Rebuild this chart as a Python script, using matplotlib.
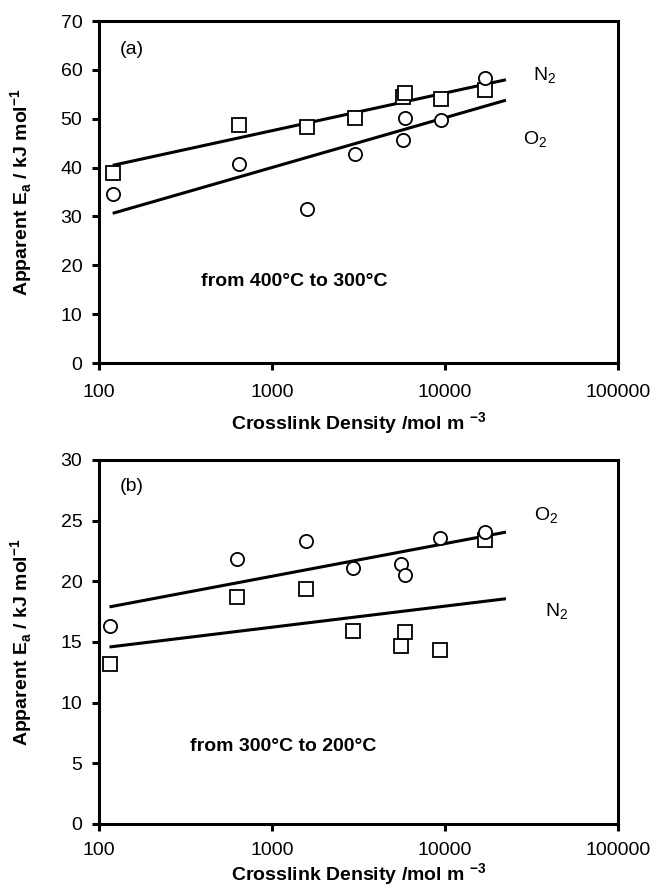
"""
Apparent activation energy vs. crosslink density, two stacked panels.
Output: out.png (656 x 892 px)
"""

import matplotlib

matplotlib.use("Agg")
import matplotlib.pyplot as plt
import numpy as np

# ---- data -----------------------------------------------------------------
# panel (a): from 400 C to 300 C
XLINK_A = [120, 645, 1600, 3000, 5700, 5900, 9500, 17000]
EA_N2_A = [38.9, 48.8, 48.3, 50.2, 54.5, 55.3, 54.1, 55.8]
EA_O2_A = [34.6, 40.7, 31.6, 42.8, 45.7, 50.2, 49.8, 58.4]

# panel (b): from 300 C to 200 C
XLINK_B = [115, 630, 1580, 2950, 5600, 5900, 9400, 17000]
EA_N2_B = [13.2, 18.7, 19.4, 15.9, 14.7, 15.8, 14.3, 23.4]
EA_O2_B = [16.3, 21.8, 23.3, 21.1, 21.4, 20.5, 23.6, 24.1]

FIT_END = 22500  # trendline runs out a bit past the last sample

# ---- style ----------------------------------------------------------------
FIG_W_IN = 6.56
FIG_H_IN = 8.92
DPI = 100

FONT = "Liberation Sans"
TICK_FS = 14.0
LABEL_FS = 14.0
NOTE_FS = 14.0
SPINE_LW = 2.2
LINE_LW = 2.2
MARKER_SIZE = 9.5
MARKER_EW = 1.3

XLABEL = "Crosslink Density /mol m $^{\\mathregular{-3}}$"
YLABEL = "Apparent E$_{\\mathregular{a}}$ / kJ mol$^{\\mathregular{-1}}$"

plt.rcParams["font.family"] = [FONT, "DejaVu Sans"]
plt.rcParams["mathtext.fontset"] = "custom"
plt.rcParams["mathtext.rm"] = FONT
plt.rcParams["mathtext.bf"] = FONT + ":bold"


def _style_axes(ax, ymax, ystep, xtickpad, xlabelpad):
    ax.set_xscale("log")
    ax.set_xlim(100, 100000)
    ax.set_ylim(0, ymax)
    ax.set_xticks([100, 1000, 10000, 100000])
    ax.set_xticklabels(["100", "1000", "10000", "100000"])
    ax.xaxis.set_minor_locator(matplotlib.ticker.NullLocator())
    ax.set_yticks(np.arange(0, ymax + 0.1, ystep))
    for spine in ax.spines.values():
        spine.set_linewidth(SPINE_LW)
    ax.tick_params(axis="both", which="major", direction="out", length=5,
                   width=SPINE_LW, labelsize=TICK_FS)
    ax.tick_params(axis="x", pad=xtickpad)
    ax.tick_params(axis="y", pad=7)
    ax.set_xlabel(XLABEL, fontsize=LABEL_FS, fontweight="bold",
                  labelpad=xlabelpad)
    ax.set_ylabel(YLABEL, fontsize=LABEL_FS, fontweight="bold")
    ax.yaxis.set_label_coords(-0.123, 0.5)


def _series(ax, x, y, marker):
    x = np.asarray(x, dtype=float)
    y = np.asarray(y, dtype=float)
    ax.plot(x, y, linestyle="none", marker=marker, markersize=MARKER_SIZE,
            markerfacecolor="white", markeredgecolor="black",
            markeredgewidth=MARKER_EW, zorder=3)
    # logarithmic trendline (linear in log10 x)
    k, b = np.polyfit(np.log10(x), y, 1)
    xs = np.logspace(np.log10(x.min()), np.log10(FIT_END), 50)
    ax.plot(xs, k * np.log10(xs) + b, color="black", linewidth=LINE_LW,
            solid_capstyle="butt", zorder=2)


def main():
    fig = plt.figure(figsize=(FIG_W_IN, FIG_H_IN), dpi=DPI)
    ax_a = fig.add_axes([99 / 656, 1 - 363 / 892, 519 / 656, 342 / 892])
    ax_b = fig.add_axes([99 / 656, 1 - 824 / 892, 519 / 656, 364 / 892])

    # (a)
    _series(ax_a, XLINK_A, EA_N2_A, "s")
    _series(ax_a, XLINK_A, EA_O2_A, "o")
    _style_axes(ax_a, 70, 10, 10, 7)
    ax_a.text(154, 64.2, "(a)", fontsize=NOTE_FS, ha="center", va="center")
    ax_a.text(37500, 58.7, "N$_{\\mathregular{2}}$", fontsize=NOTE_FS,
              ha="center", va="center")
    ax_a.text(33000, 45.6, "O$_{\\mathregular{2}}$", fontsize=NOTE_FS,
              ha="center", va="center")
    ax_a.text(1340, 16.6, "from 400°C to 300°C", fontsize=NOTE_FS,
              fontweight="bold", ha="center", va="center")

    # (b)
    _series(ax_b, XLINK_B, EA_N2_B, "s")
    _series(ax_b, XLINK_B, EA_O2_B, "o")
    _style_axes(ax_b, 30, 5, 8, 2)
    ax_b.text(154, 27.8, "(b)", fontsize=NOTE_FS, ha="center", va="center")
    ax_b.text(38500, 25.4, "O$_{\\mathregular{2}}$", fontsize=NOTE_FS,
              ha="center", va="center")
    ax_b.text(44000, 17.5, "N$_{\\mathregular{2}}$", fontsize=NOTE_FS,
              ha="center", va="center")
    ax_b.text(1160, 6.4, "from 300°C to 200°C", fontsize=NOTE_FS,
              fontweight="bold", ha="center", va="center")

    fig.savefig("out.png", dpi=DPI)
    plt.close(fig)


if __name__ == "__main__":
    main()
